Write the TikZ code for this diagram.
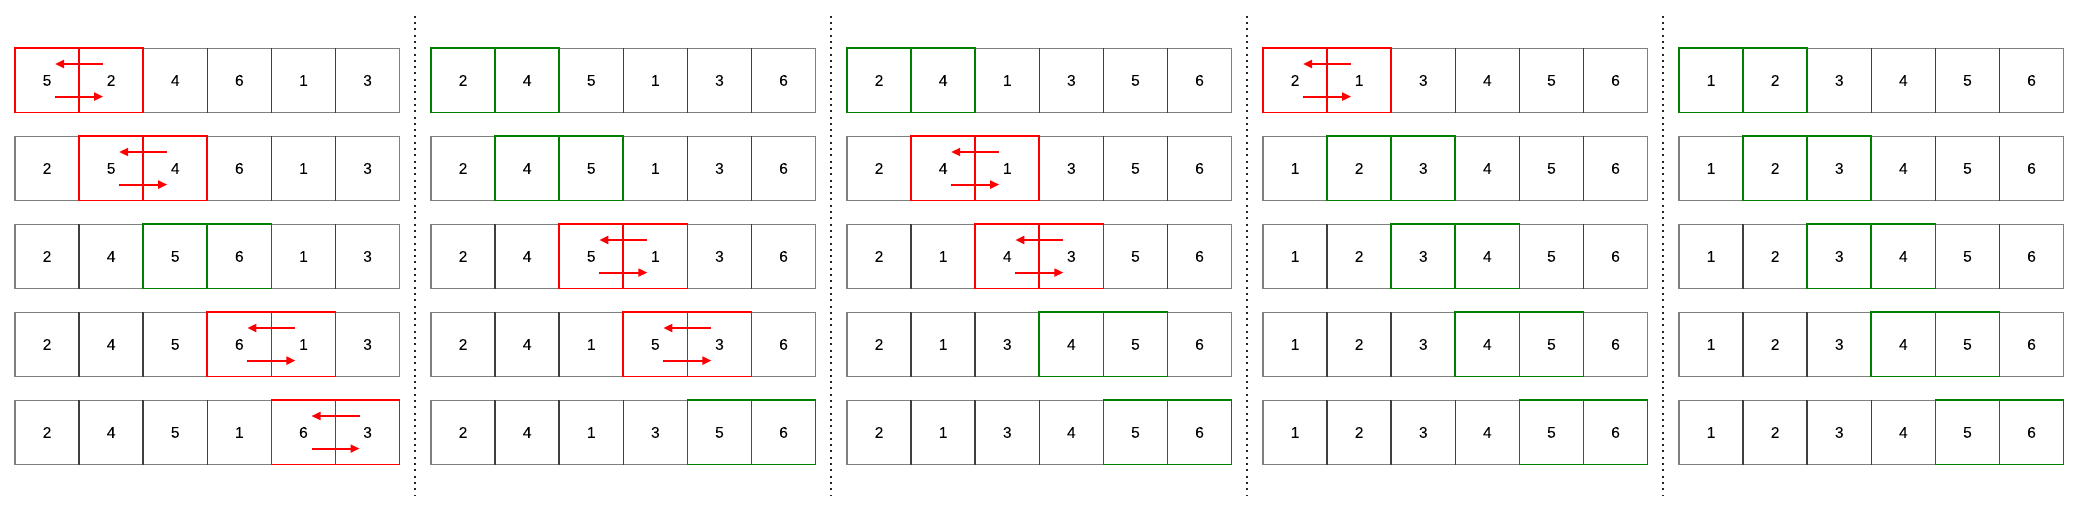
\documentclass[tikz,border=0pt]{standalone}
\usepackage{fontspec}
\setmainfont{Liberation Sans}
\newfontfamily\cellfont{Liberation Sans}[FakeBold=0.5]
\usetikzlibrary{arrows.meta}
\definecolor{swapred}{RGB}{255,0,0}
\definecolor{okgreen}{RGB}{0,128,0}
\tikzset{
  cell/.style={draw=black, draw opacity=0.5, line width=1.6pt, minimum width=64.1pt, minimum height=64.3pt, inner sep=0pt, outer sep=0pt, font=\cellfont\fontsize{15.5}{18}\selectfont},
  hlbox/.style={line width=1.7pt, minimum width=64.1pt, minimum height=64.3pt, inner sep=0pt, outer sep=0pt},
  swaparrow/.style={draw=swapred, line width=2pt, -{Triangle[length=9pt,width=8pt]}},
  sepline/.style={line width=2pt, dash pattern=on 2pt off 4.3pt, draw=black!85}
}
\begin{document}
\begin{tikzpicture}[x=1pt,y=-1pt]
\useasboundingbox[fill=white] (0,0) rectangle (2080,515);
\foreach \p/\r/\a/\b/\c/\d/\e/\f/\k/\sw in {
0/0/5/2/4/6/1/3/1/1, 0/1/2/5/4/6/1/3/2/1, 0/2/2/4/5/6/1/3/3/0, 0/3/2/4/5/6/1/3/4/1, 0/4/2/4/5/1/6/3/5/1,
1/0/2/4/5/1/3/6/1/0, 1/1/2/4/5/1/3/6/2/0, 1/2/2/4/5/1/3/6/3/1, 1/3/2/4/1/5/3/6/4/1, 1/4/2/4/1/3/5/6/5/0,
2/0/2/4/1/3/5/6/1/0, 2/1/2/4/1/3/5/6/2/1, 2/2/2/1/4/3/5/6/3/1, 2/3/2/1/3/4/5/6/4/0, 2/4/2/1/3/4/5/6/5/0,
3/0/2/1/3/4/5/6/1/1, 3/1/1/2/3/4/5/6/2/0, 3/2/1/2/3/4/5/6/3/0, 3/3/1/2/3/4/5/6/4/0, 3/4/1/2/3/4/5/6/5/0,
4/0/1/2/3/4/5/6/1/0, 4/1/1/2/3/4/5/6/2/0, 4/2/1/2/3/4/5/6/3/0, 4/3/1/2/3/4/5/6/4/0, 4/4/1/2/3/4/5/6/5/0}
{
  \foreach \v [count=\i from 0] in {\a,\b,\c,\d,\e,\f} {
    \node[cell] (c-\p-\r-\i) at ({47.05+416*\p+64.1*\i},{80.45+88*\r}) {\v};
  }
  \pgfmathtruncatemacro\kk{\k-1}
  \ifnum\sw=1
    \node[hlbox, draw=swapred] (ha-\p-\r) at (c-\p-\r-\kk) {};
    \node[hlbox, draw=swapred] (hb-\p-\r) at (c-\p-\r-\k) {};
    \draw[swaparrow] ([xshift=24pt,yshift=-15.7pt]ha-\p-\r.north east) -- ([xshift=-24pt,yshift=-15.7pt]ha-\p-\r.north east);
    \draw[swaparrow] ([xshift=-24pt,yshift=16pt]ha-\p-\r.south east) -- ([xshift=24pt,yshift=16pt]ha-\p-\r.south east);
  \else
    \node[hlbox, draw=okgreen] (ha-\p-\r) at (c-\p-\r-\kk) {};
    \node[hlbox, draw=okgreen] (hb-\p-\r) at (c-\p-\r-\k) {};
  \fi
}
\foreach \j in {0,...,3} {
  \coordinate (s-\j-t) at ({415+416*\j},15.7);
  \coordinate (s-\j-b) at ({415+416*\j},496);
  \draw[sepline] (s-\j-t) -- (s-\j-b);
}
\end{tikzpicture}
\end{document}
